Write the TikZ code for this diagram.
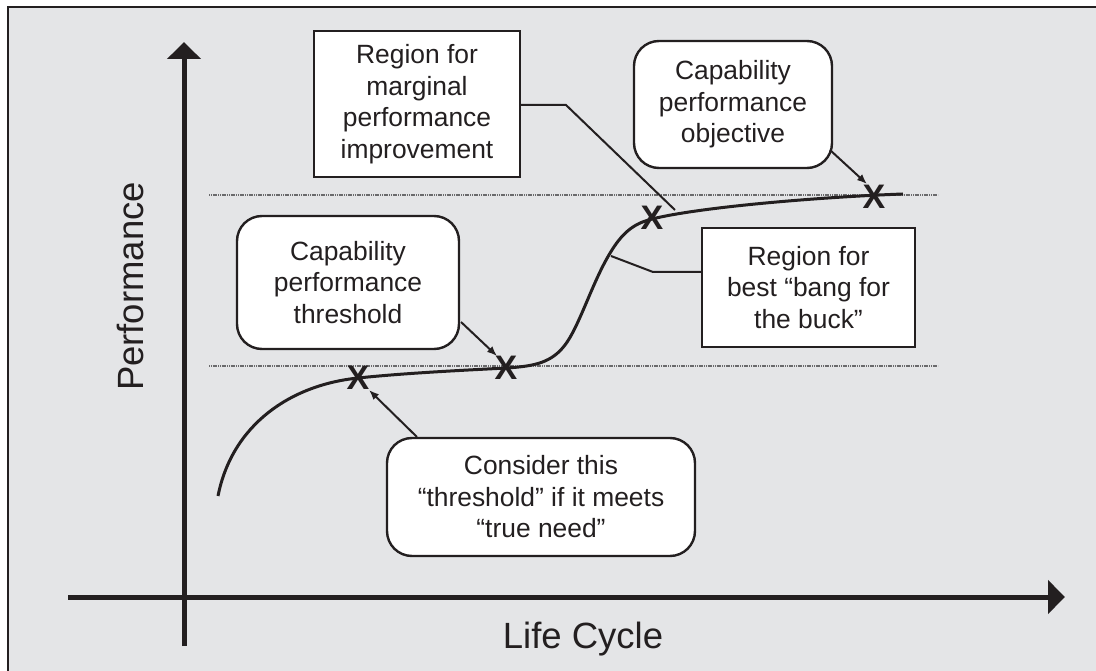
\documentclass[tikz,border=0pt]{standalone}
\usepackage{fontspec}
\setmainfont{Liberation Sans}
\usetikzlibrary{arrows.meta}
\definecolor{panel}{HTML}{E4E5E7}
\definecolor{ink}{HTML}{231F20}
\definecolor{guide}{HTML}{6A6A6C}
\tikzset{
  boxtext/.style={font=\fontsize{26.4}{31.5}\selectfont, align=center, text=ink},
  squarebox/.style={boxtext, draw=ink, line width=2.4pt, fill=white, inner sep=0pt},
  roundbox/.style={squarebox, rounded corners=25pt},
  axis/.style={draw=ink, line width=5pt, -{Triangle[length=17pt,width=33pt]}},
  guideline/.style={draw=guide, line width=2.4pt, dash pattern=on 1.2pt off 0.6pt},
  leader/.style={draw=ink, line width=2pt},
  pointer/.style={draw=ink, line width=2pt, -{Latex[length=10pt,width=8pt]}},
  curve/.style={draw=ink, line width=3pt},
  xmark/.style={font=\fontsize{34}{34}\bfseries\selectfont, text=ink, inner sep=0pt},
  axislabel/.style={font=\fontsize{36.5}{36.5}\selectfont, text=ink, inner sep=0pt, anchor=base}
}
\begin{document}
\begin{tikzpicture}[x=1pt,y=-1pt]
\useasboundingbox (0,0) rectangle (1096,671);

% panel with its top and left border
\fill[panel] (8,7) rectangle (1096,671);
\draw[ink, line width=2.5pt] (8,671) -- (8,7) -- (1096,7);

% guide levels: objective (top) and threshold (bottom)
\coordinate (objL) at (209,195);
\coordinate (objR) at (938,195);
\coordinate (thrL) at (209,366);
\coordinate (thrR) at (938,366);
\draw[guideline] (objL) -- (objR);
\draw[guideline] (thrL) -- (thrR);

% axes
\coordinate (yBot) at (184,646);
\coordinate (yTop) at (184,42);
\coordinate (xLeft) at (68,597);
\coordinate (xRight) at (1065,597);
\draw[axis] (yBot) -- (yTop);
\draw[axis] (xLeft) -- (xRight);

\node[axislabel, rotate=90] (ylab) at (143,286.5) {Performance};
\node[axislabel] (xlab) at (583,648) {Life Cycle};

% performance curve: rise, plateau at threshold, S-jump, flatten at objective
\draw[curve] (218,496)
  .. controls (232,425) and (290,385) .. (358,378)
  .. controls (410,372.6) and (470,370) .. (506,368)
  .. controls (536,366.3) and (552,362) .. (565,345)
  .. controls (578,328) and (590,290) .. (605,262)
  .. controls (620,234) and (632,224) .. (652,219)
  .. controls (700,207) and (820,197) .. (903,194);

% boxes
\node[squarebox, minimum width=206pt, minimum height=146pt] (marg) at (417,104)
  {Region for\\marginal\\performance\\improvement};
\node[roundbox, minimum width=198pt, minimum height=127pt] (obj) at (733,104.5)
  {Capability\\performance\\objective};
\node[roundbox, minimum width=222pt, minimum height=133pt] (thr) at (348,282.5)
  {Capability\\performance\\threshold};
\node[squarebox, minimum width=213pt, minimum height=119pt] (bang) at (808.5,287.5)
  {Region for\\best “bang for\\the buck”};
\node[roundbox, minimum width=308pt, minimum height=118pt] (cons) at (541,497)
  {Consider this\\“threshold” if it meets\\“true need”};

% marks on the curve
\node[xmark] (x1) at (358,378) {X};
\node[xmark] (x2) at (506,368) {X};
\node[xmark] (x3) at (652,218) {X};
\node[xmark] (x4) at (874,197) {X};

% leaders and pointers
\coordinate (margBend) at (566,105);
\coordinate (margEnd) at (675,210);
\draw[leader] (marg.east |- margBend) -- (margBend) -- (margEnd);

\coordinate (bangBend) at (653,272);
\coordinate (bangEnd) at (611,256);
\draw[leader] (bang.west |- bangBend) -- (bangBend) -- (bangEnd);

\coordinate (thrFrom) at (461,322);
\coordinate (thrTo) at (497,356);
\draw[pointer] (thrFrom) -- (thrTo);

\coordinate (objFrom) at (830,150);
\coordinate (objTo) at (867,184);
\draw[pointer] (objFrom) -- (objTo);

\coordinate (consFrom) at (417,437);
\coordinate (consTo) at (369,390);
\draw[pointer] (consFrom) -- (consTo);
\end{tikzpicture}
\end{document}
